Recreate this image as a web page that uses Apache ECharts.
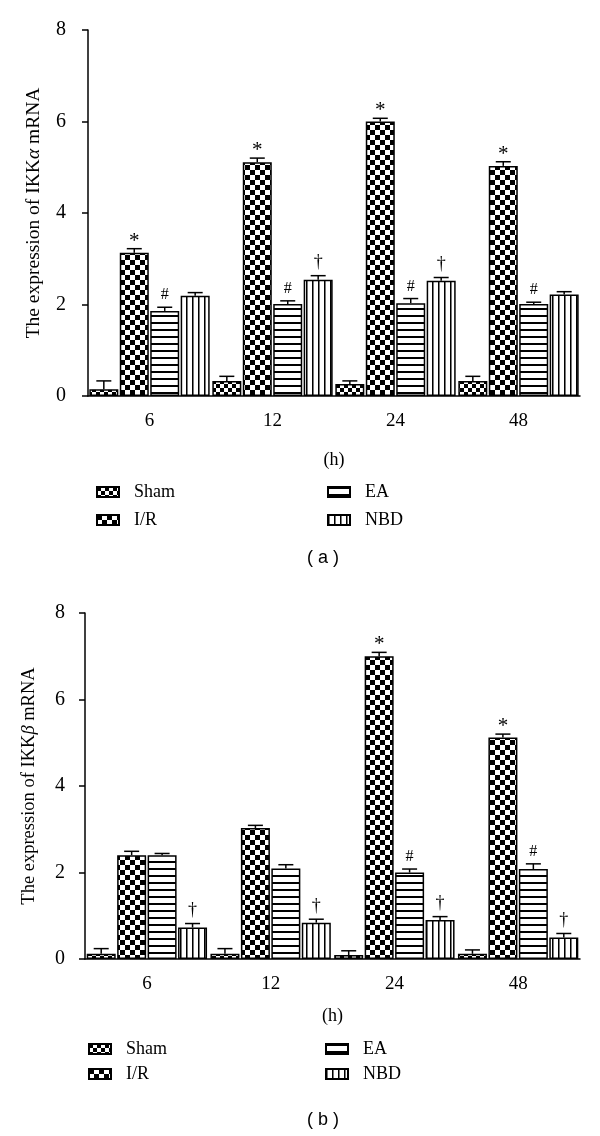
<!DOCTYPE html>
<html><head><meta charset="utf-8">
<script src="https://cdn.jsdelivr.net/npm/echarts@6/dist/echarts.min.js"></script>
<style>html,body{margin:0;padding:0;background:#fff}#c{width:600px;height:1136px}</style>
</head><body><div id="c"></div>
<script>
// ---------- data ----------
const categories = ['6', '12', '24', '48'];
const groupNames = ['Sham', 'I/R', 'EA', 'NBD'];
const yTicks = [0, 2, 4, 6, 8];

// panel (a) IKKα
const aSham = [0.15, 0.33, 0.26, 0.33];
const aShamErr = [0.18, 0.10, 0.07, 0.10];
const aIR = [3.13, 5.11, 6.00, 5.03];
const aIRErr = [0.09, 0.09, 0.07, 0.09];
const aEA = [1.86, 2.01, 2.03, 2.01];
const aEAErr = [0.08, 0.07, 0.10, 0.04];
const aNBD = [2.19, 2.54, 2.52, 2.22];
const aNBDErr = [0.07, 0.09, 0.07, 0.06];
const aShamMark = ['', '', '', ''];
const aIRMark = ['*', '*', '*', '*'];
const aEAMark = ['#', '#', '#', '#'];
const aNBDMark = ['', '†', '†', ''];

// panel (b) IKKβ
const bSham = [0.12, 0.12, 0.09, 0.12];
const bShamErr = [0.12, 0.12, 0.10, 0.09];
const bIR = [2.40, 3.03, 7.00, 5.12];
const bIRErr = [0.09, 0.06, 0.09, 0.08];
const bEA = [2.40, 2.09, 2.00, 2.08];
const bEAErr = [0.04, 0.09, 0.08, 0.12];
const bNBD = [0.73, 0.84, 0.90, 0.50];
const bNBDErr = [0.09, 0.08, 0.08, 0.09];
const bShamMark = ['', '', '', ''];
const bIRMark = ['', '', '*', '*'];
const bEAMark = ['', '', '#', '#'];
const bNBDMark = ['†', '†', '†', '†'];

// ---------- patterns ----------
function checker(s) {
  const c = document.createElement('canvas'); c.width = c.height = s * 2;
  const g = c.getContext('2d');
  g.fillStyle = '#fff'; g.fillRect(0, 0, 2 * s, 2 * s);
  g.fillStyle = '#000'; g.fillRect(0, 0, s, s); g.fillRect(s, s, s, s);
  return c;
}
function hstripe() {
  const c = document.createElement('canvas'); c.width = 8; c.height = 7;
  const g = c.getContext('2d');
  g.fillStyle = '#fff'; g.fillRect(0, 0, 8, 7);
  g.fillStyle = '#000'; g.fillRect(0, 0, 8, 2);
  return c;
}
function vstripe() {
  const c = document.createElement('canvas'); c.width = 6; c.height = 8;
  const g = c.getContext('2d');
  g.fillStyle = '#fff'; g.fillRect(0, 0, 6, 8);
  g.fillStyle = '#000'; g.fillRect(0, 0, 1, 8);
  g.fillStyle = '#777'; g.fillRect(1, 0, 1, 8);
  return c;
}
const patterns = [
  { image: checker(4), repeat: 'repeat' },
  { image: checker(5), repeat: 'repeat' },
  { image: hstripe(), repeat: 'repeat' },
  { image: vstripe(), repeat: 'repeat' }
];

const SERIF = '"Liberation Serif", "DejaVu Serif", serif';
const BAR_W = 29, BAR_GAP = 1.45;

function barSeries(name, values, gi, idx) {
  return {
    type: 'bar', name: name, xAxisIndex: idx, yAxisIndex: idx,
    data: values, barWidth: BAR_W, barGap: '5%',
    itemStyle: { color: patterns[gi], borderColor: '#000', borderWidth: 1.5 },
    emphasis: { disabled: true }, animation: false, z: 2
  };
}
function errSeries(values, errs, marks, gi, idx) {
  const data = values.map((v, i) => [i, v, errs[i]]);
  const offset = (gi - 1.5) * (BAR_W + BAR_GAP);
  return {
    type: 'custom', name: 'err' + idx + gi, xAxisIndex: idx, yAxisIndex: idx,
    data: data, animation: false, silent: true, z: 5,
    encode: { x: 0, y: 1 },
    renderItem: function (params, api) {
      const cat = api.value(0), v = api.value(1), e = api.value(2);
      const p0 = api.coord([cat, v]);
      const p1 = api.coord([cat, v + e]);
      const x = p0[0] + offset;
      const children = [
        { type: 'line', shape: { x1: x, y1: p0[1], x2: x, y2: p1[1] }, style: { stroke: '#000', lineWidth: 1.5 } },
        { type: 'line', shape: { x1: x - 7.5, y1: p1[1], x2: x + 7.5, y2: p1[1] }, style: { stroke: '#000', lineWidth: 1.5 } }
      ];
      const m = marks[params.dataIndex];
      if (m) {
        children.push({ type: 'text', style: {
          text: m, x: x, y: p1[1] - (m === '*' ? -3 : 4), textAlign: 'center', textVerticalAlign: 'bottom',
          font: (m === '†' ? '18px ' : (m === '*' ? '21px ' : '16px ')) + SERIF, fill: '#000' } });
      }
      return { type: 'group', children: children };
    }
  };
}

function xAxis(idx, gap) {
  return {
    type: 'category', gridIndex: idx, data: categories,
    name: '(h)', nameLocation: 'middle', nameGap: gap,
    nameTextStyle: { fontFamily: SERIF, fontSize: 18, color: '#000' },
    axisLine: { lineStyle: { color: '#000', width: 1.5 } },
    axisTick: { alignWithLabel: true, length: 6, lineStyle: { color: '#000', width: 1.5 } },
    axisLabel: { fontFamily: SERIF, fontSize: 19, color: '#000', margin: 16 },
    splitLine: { show: false }
  };
}
function yAxis(idx, greek, gap, fs, margin) {
  return {
    type: 'value', gridIndex: idx, min: yTicks[0], max: yTicks[yTicks.length - 1], interval: 2,
    name: '{n|The expression of IKK}{g|' + greek + '}{n| mRNA}', nameLocation: 'middle', nameGap: gap, nameRotate: 90,
    nameTextStyle: { rich: {
      n: { fontFamily: SERIF, fontSize: fs, color: '#000' },
      g: { fontFamily: SERIF, fontSize: fs, fontStyle: 'italic', color: '#000' } } },
    axisLine: { show: true, lineStyle: { color: '#000', width: 1.5 } },
    axisTick: { show: true, length: 6, lineStyle: { color: '#000', width: 1.5 } },
    axisLabel: { fontFamily: SERIF, fontSize: 20, color: '#000', margin: margin },
    splitLine: { show: false }
  };
}
function legends(left1, left2, top, gap) {
  const base = {
    orient: 'vertical', top: top, itemWidth: 22, itemHeight: 10, itemGap: gap, icon: 'rect',
    selectedMode: false, padding: 0,
    textStyle: { fontFamily: SERIF, fontSize: 18, color: '#000', lineHeight: 18, padding: [0, 0, 0, 10] }
  };
  return [
    Object.assign({}, base, { left: left1, data: ['Sham', 'I/R'] }),
    Object.assign({}, base, { left: left2, data: ['EA', 'NBD'] })
  ];
}

const A = [[aSham, aShamErr, aShamMark], [aIR, aIRErr, aIRMark], [aEA, aEAErr, aEAMark], [aNBD, aNBDErr, aNBDMark]];
const B = [[bSham, bShamErr, bShamMark], [bIR, bIRErr, bIRMark], [bEA, bEAErr, bEAMark], [bNBD, bNBDErr, bNBDMark]];
const series = [];
A.forEach((s, gi) => series.push(barSeries(groupNames[gi], s[0], gi, 0)));
B.forEach((s, gi) => series.push(barSeries(groupNames[gi], s[0], gi, 1)));
A.forEach((s, gi) => series.push(errSeries(s[0], s[1], s[2], gi, 0)));
B.forEach((s, gi) => series.push(errSeries(s[0], s[1], s[2], gi, 1)));

const chart = echarts.init(document.getElementById('c'), null, { renderer: 'canvas' });
chart.setOption({
  backgroundColor: '#fff',
  animation: false,
  grid: [
    { left: 88, top: 30, width: 492, height: 366 },
    { left: 85, top: 613, width: 495, height: 346 }
  ],
  xAxis: [xAxis(0, 55), xAxis(1, 48)],
  yAxis: [yAxis(0, 'α', 44, 19.5, 22), yAxis(1, 'β', 46, 18.5, 20)],
  legend: legends(96, 327, 483, 10).concat(legends(88, 325, 1040, 7)),
  graphic: [
    { type: 'text', x: 323, y: 558, style: { text: '( a )', textAlign: 'center', textVerticalAlign: 'middle', font: '18px "Liberation Sans", Arial, sans-serif', fill: '#000' } },
    { type: 'text', x: 323, y: 1120, style: { text: '( b )', textAlign: 'center', textVerticalAlign: 'middle', font: '18px "Liberation Sans", Arial, sans-serif', fill: '#000' } }
  ],
  series: series
});
</script>
</body></html>
